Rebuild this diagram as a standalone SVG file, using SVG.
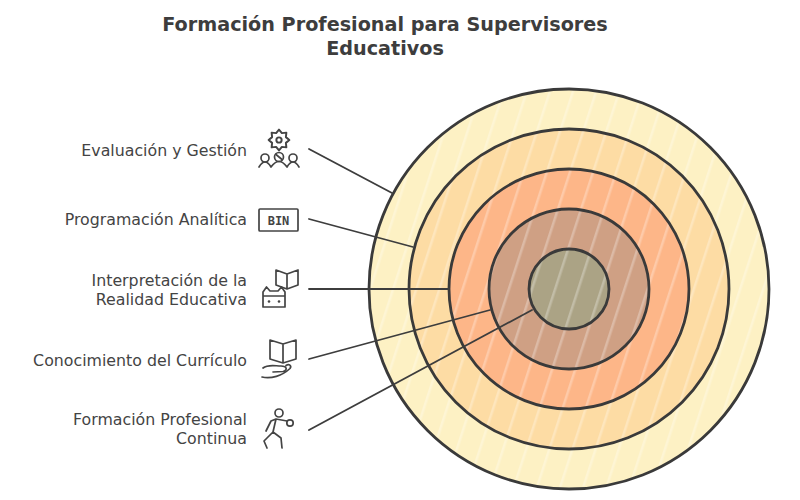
<svg xmlns="http://www.w3.org/2000/svg" width="800" height="500" viewBox="0 0 800 500">
  <defs>
    <style>
      .title{font-family:"DejaVu Sans","Noto Sans",sans-serif;font-weight:700;font-size:19.2px;fill:#3d3d3d;text-anchor:middle}
      .lbl{font-family:"DejaVu Sans","Noto Sans",sans-serif;font-size:15.8px;fill:#444;text-anchor:end}
      .ring{stroke:none}
      .edge{stroke:#3a3a3a;stroke-width:2.8;fill:none}
      .conn{stroke:#3d3d3d;stroke-width:1.8;fill:none;stroke-linecap:round}
      .ico{stroke:#444;stroke-width:1.7;fill:none;stroke-linecap:round;stroke-linejoin:round}
    </style>
    <pattern id="hatch" width="22" height="22" patternUnits="userSpaceOnUse" patternTransform="rotate(18)">
      <rect x="0" y="0" width="2.5" height="22" fill="#ffffff" opacity="0.28"/>
    </pattern>
  </defs>
  <rect width="800" height="500" fill="#ffffff"/>

  <g id="title">
    <text class="title" x="385" y="31">Formación Profesional para Supervisores</text>
    <text class="title" x="385" y="55">Educativos</text>
  </g>

  <g id="rings">
    <circle class="ring" cx="569" cy="289" r="200" fill="#fdf1c4"/>
    <circle class="ring" cx="569" cy="289" r="160" fill="#fddca4"/>
    <circle class="ring" cx="569" cy="289" r="120" fill="#fdb688"/>
    <circle class="ring" cx="569" cy="289" r="80" fill="#cfa084"/>
    <circle class="ring" cx="569" cy="289" r="40" fill="#aba385"/>
    <circle cx="569" cy="289" r="198" fill="url(#hatch)"/>
    <circle class="edge" cx="569" cy="289" r="200"/>
    <circle class="edge" cx="569" cy="289" r="160"/>
    <circle class="edge" cx="569" cy="289" r="120"/>
    <circle class="edge" cx="569" cy="289" r="80"/>
    <circle class="edge" cx="569" cy="289" r="40"/>
  </g>

  <g id="connectors">
    <line class="conn" x1="309" y1="149" x2="392" y2="193"/>
    <line class="conn" x1="309" y1="219" x2="413" y2="247"/>
    <line class="conn" x1="309" y1="289" x2="449" y2="289"/>
    <line class="conn" x1="309" y1="359" x2="490" y2="310"/>
    <line class="conn" x1="309" y1="430" x2="532" y2="310"/>
  </g>

  <g id="node-evaluacion">
    <text class="lbl" x="247" y="156">Evaluación y Gestión</text>
    <g transform="translate(279,140) scale(1.15) translate(-279,-140)">
      <path class="ico" d="M288,140 L285,142.5 L285.4,146.4 L281.5,146 L279,149 L276.5,146 L272.6,146.4 L273,142.5 L270,140 L273,137.5 L272.6,133.6 L276.5,134 L279,131 L281.5,134 L285.4,133.6 L285,137.5 Z"/>
      <circle class="ico" cx="279" cy="140" r="2.3"/>
    </g>
    <circle class="ico" cx="265" cy="158" r="4"/>
    <circle class="ico" cx="279" cy="157" r="4.5"/>
    <circle class="ico" cx="293" cy="158" r="4"/>
    <path class="ico" d="M276,154.5 L282,159.5"/>
    <path class="ico" d="M259,167 Q262,162 265,162 Q268,162 271,167 Q275,161.5 279,161.5 Q283,161.5 287,167 Q290,162 293,162 Q296,162 299,167"/>
  </g>

  <g id="node-programacion">
    <text class="lbl" x="247" y="225">Programación Analítica</text>
    <rect class="ico" x="259" y="209" width="39" height="22" rx="1"/>
    <text x="278.5" y="224.5" font-family="DejaVu Sans Mono, monospace" font-size="12" font-weight="700" fill="#444" text-anchor="middle">BIN</text>
  </g>

  <g id="node-interpretacion">
    <text class="lbl" x="247" y="286">Interpretación de la</text>
    <text class="lbl" x="247" y="305">Realidad Educativa</text>
    <path class="ico" d="M276,285 L276,270 L287,274 L298,270 L298,285 L287,289 Z M287,274 L287,289"/>
    <path class="ico" d="M263,307 L263,292 L266.5,287 L270,291 L278,291 L281.5,287 L285,292 L285,307 Z M263,296 L285,296"/>
    <circle cx="269" cy="301.5" r="1.3" fill="#444"/>
    <circle cx="279" cy="301.5" r="1.3" fill="#444"/>
  </g>

  <g id="node-conocimiento">
    <text class="lbl" x="247" y="366">Conocimiento del Currículo</text>
    <path class="ico" d="M270,359 L270,340 L283,344 L296,340 L296,359 L283,363 Z M283,344 L283,363"/>
    <path class="ico" d="M263,368 C268,364 275,366 281,366 C287,366 288,370 283,371.5 L273,372 M262,377 C271,379 282,376 290,368.5 C292,365.5 289,363.5 286,365.5"/>
  </g>

  <g id="node-formacion">
    <text class="lbl" x="247" y="425">Formación Profesional</text>
    <text class="lbl" x="247" y="444">Continua</text>
    <circle class="ico" cx="279" cy="413" r="4"/>
    <path class="ico" d="M276,419 L271,421 L266,431 M276,419 L287,421 M276,419 L273,432 L264,441 L267,448 M273,432 L281,438 L282,448"/>
    <circle class="ico" cx="290" cy="423" r="3.2"/>
  </g>
</svg>
